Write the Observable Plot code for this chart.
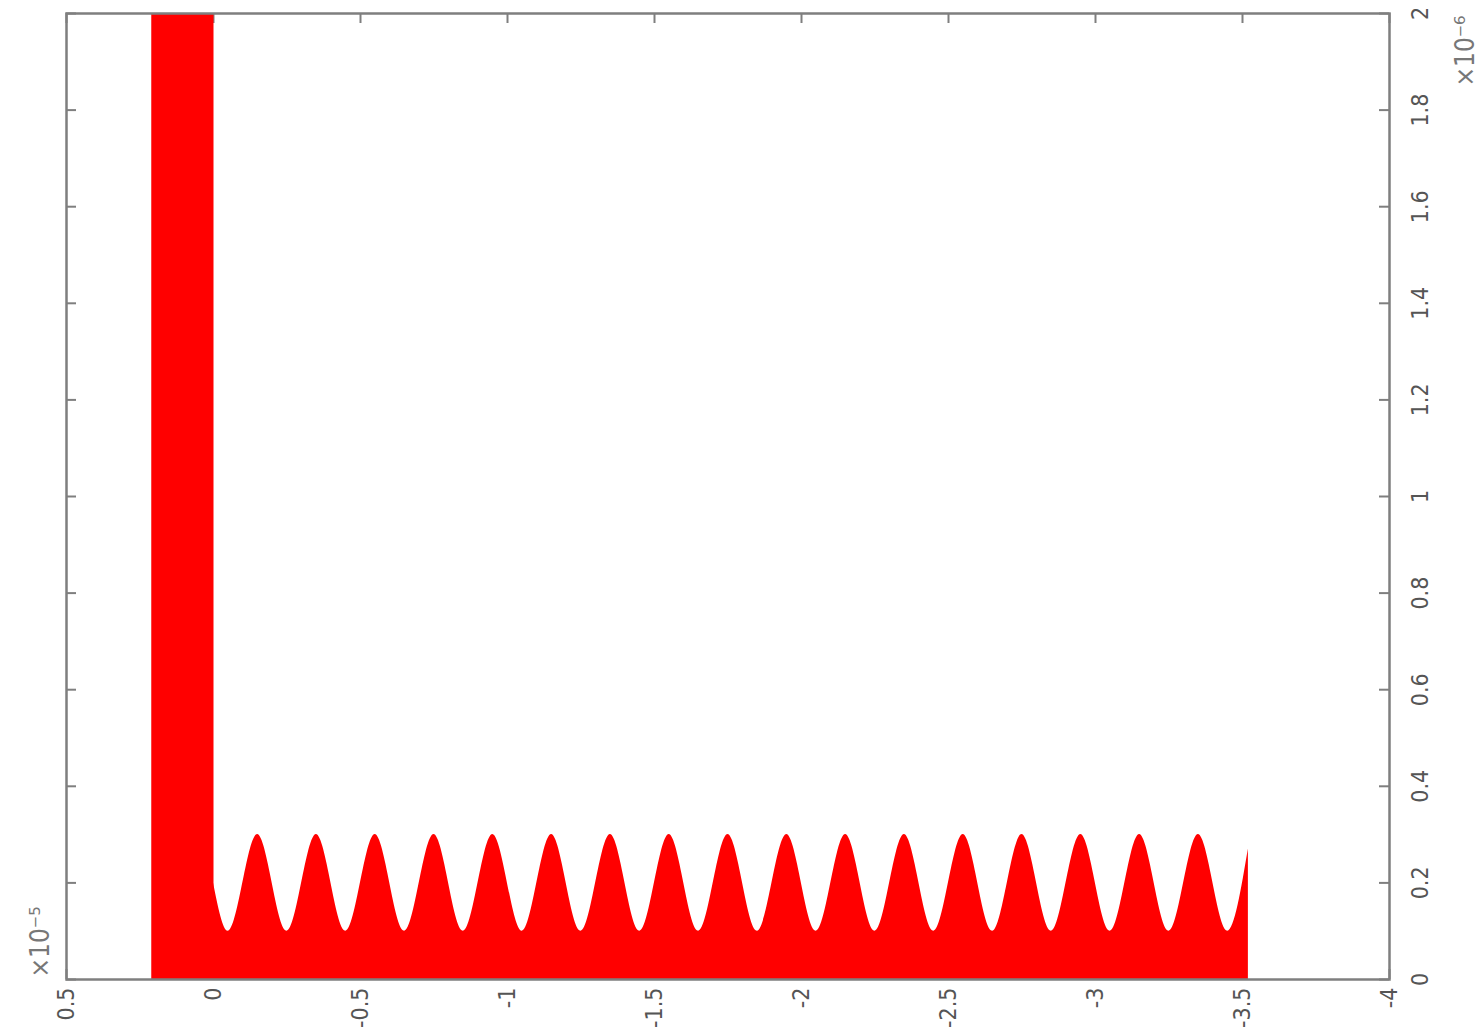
<!DOCTYPE html>
<html>
<head>
<meta charset="utf-8">
<script src="https://cdn.jsdelivr.net/npm/d3@7"></script>
<script src="https://cdn.jsdelivr.net/npm/@observablehq/plot@0.6"></script>
<style>
  html, body { margin: 0; padding: 0; background: #fff; }
</style>
</head>
<body>
<div id="chart"></div>
<script>
// Tick values (x in units of 1e-5, y in units of 1e-6)
const xTicks = [0.5, 0, -0.5, -1, -1.5, -2, -2.5, -3, -3.5, -4];
const yTicks = [0, 0.2, 0.4, 0.6, 0.8, 1, 1.2, 1.4, 1.6, 1.8, 2];

// Tall block (clipped at top of the axes)
const blockX1 = 0.21;
const blockX2 = 0;
const blockTop = 2;

// Oscillating part: start, troughs/peaks, end
const waveX = [0, -0.05, -0.15, -0.25, -0.35, -0.45, -0.55, -0.65, -0.75, -0.85, -0.95,
  -1.05, -1.15, -1.25, -1.35, -1.45, -1.55, -1.65, -1.75, -1.85, -1.95,
  -2.05, -2.15, -2.25, -2.35, -2.45, -2.55, -2.65, -2.75, -2.85, -2.95,
  -3.05, -3.15, -3.25, -3.35, -3.45, -3.52];
const waveY = [0.2, 0.1, 0.3, 0.1, 0.3, 0.1, 0.3, 0.1, 0.3, 0.1, 0.3,
  0.1, 0.3, 0.1, 0.3, 0.1, 0.3, 0.1, 0.3, 0.1, 0.3,
  0.1, 0.3, 0.1, 0.3, 0.1, 0.3, 0.1, 0.3, 0.1, 0.3,
  0.1, 0.3, 0.1, 0.3, 0.1, 0.27];

const wave = waveX.map((x, i) => ({x, y: waveY[i]}));
const block = [{x1: blockX1, x2: blockX2, top: blockTop}];

const axisColor = "#7f7f7f";
const textColor = "#555";
const fmt = d => String(d);

const chart = Plot.plot({
  width: 1479,
  height: 1031,
  marginLeft: 66,
  marginRight: 90,
  marginTop: 13,
  marginBottom: 52,
  x: {domain: [0.5, -4], axis: null},
  y: {domain: [0, 2], axis: null},
  style: {
    fontFamily: "'Liberation Sans Narrow', 'DejaVu Sans Condensed', sans-serif",
    fontSize: "23px",
    background: "white"
  },
  marks: [
    // inward tick marks on all four sides
    Plot.ruleX(xTicks, {x: d => d, y1: 2, y2: 2, insetBottom: -10, stroke: axisColor, strokeWidth: 2}),
    Plot.ruleX(xTicks, {x: d => d, y1: 0, y2: 0, insetTop: -10, stroke: axisColor, strokeWidth: 2}),
    Plot.ruleY(yTicks, {y: d => d, x1: 0.5, x2: 0.5, insetRight: -10, stroke: axisColor, strokeWidth: 2}),
    Plot.ruleY(yTicks, {y: d => d, x1: -4, x2: -4, insetLeft: -10, stroke: axisColor, strokeWidth: 2}),
    // data
    Plot.areaY(wave, {x: "x", y: "y", curve: "monotone-x", fill: "#ff0000"}),
    Plot.rect(block, {x1: "x1", x2: "x2", y1: 0, y2: "top", fill: "#ff0000", insetRight: -0.5}),
    Plot.frame({stroke: axisColor, strokeWidth: 2.5}),
    // x tick labels (rotated)
    Plot.text(xTicks, {x: d => d, y: 0, text: fmt, rotate: -90, textAnchor: "end",
      lineAnchor: "middle", dy: 8, fill: textColor}),
    // y tick labels on the right (rotated)
    Plot.text(yTicks, {x: -4, y: d => d, text: fmt, rotate: -90, textAnchor: "middle",
      lineAnchor: "middle", dx: 31, fill: textColor}),
    // exponent labels
    Plot.text(["×10⁻⁵"], {x: 0.5, y: 0, text: d => d, rotate: -90, textAnchor: "start",
      lineAnchor: "middle", dx: -26, dy: -2, fill: "#777", fontSize: 26}),
    Plot.text(["×10⁻⁶"], {x: -4, y: 2, text: d => d, rotate: -90, textAnchor: "end",
      lineAnchor: "middle", dx: 76, dy: 2, fill: "#777", fontSize: 26})
  ]
});

document.getElementById("chart").appendChild(chart);
</script>
</body>
</html>
